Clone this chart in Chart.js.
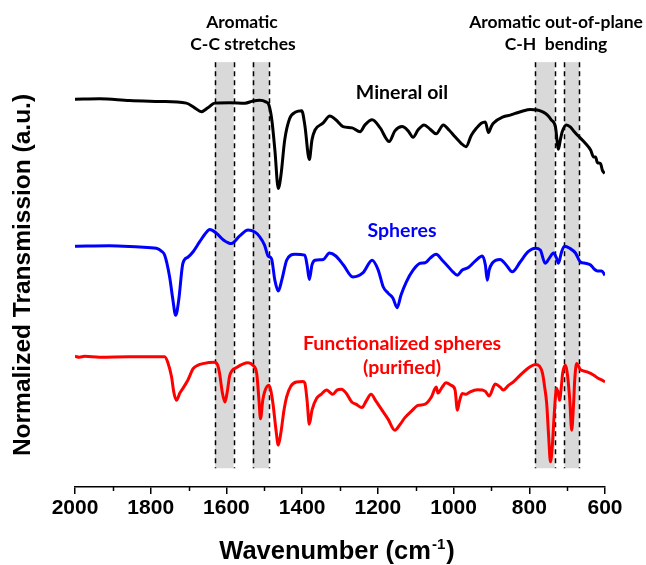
<!DOCTYPE html>
<html>
<head>
<meta charset="utf-8">
<script src="https://cdn.jsdelivr.net/npm/chart.js@4.4.1/dist/chart.umd.min.js"></script>
<style>
  html, body { margin: 0; padding: 0; background: #fff; }
  #wrap { width: 646px; height: 565px; position: relative; }
</style>
</head>
<body>
<div id="wrap"><canvas id="c" width="646" height="565"></canvas></div>
<script>
// ---- Data (wavenumber in cm-1, normalized transmission in a.u., traces offset) ----
const mineralOilWn = [2000,1935,1856,1776,1706,1684,1666,1649,1631,1591,1551,1530,1512,1496,1488,1480,1472,1463,1456,1446,1433,1417,1401,1393,1381,1374,1366,1345,1327,1311,1292,1268,1247,1234,1215,1194,1170,1155,1136,1120,1107,1094,1078,1062,1046,1027,1012,996,980,967,953,940,927,916,908,900,895,869,850,837,819,797,779,763,752,742,731,723,718,713,702,691,681,665,652,638,630,625,620,612,607,601];
const mineralOilT  = [90.8,90.9,90.5,90.3,89.9,88.8,87.9,88.8,89.9,90.0,89.9,90.4,90.6,90.2,89.5,85.9,78.9,69.9,73.0,81.3,86.3,87.8,88.1,84.8,76.7,81.3,83.6,85.2,86.9,86.0,84.4,84.1,83.2,84.8,86.0,84.1,80.9,83.4,84.4,83.4,81.9,83.6,84.8,83.8,82.7,84.8,83.6,82.0,80.5,79.7,82.4,84.0,85.2,85.5,83.0,84.5,85.2,86.7,87.1,87.5,88.0,88.4,88.3,87.8,87.1,86.0,84.4,79.1,81.3,83.2,84.8,84.3,83.2,81.7,80.5,78.9,77.3,77.3,75.9,75.8,74.2,73.4];

const spheresWn = [2000,1909,1829,1785,1771,1763,1750,1742,1734,1726,1715,1702,1688,1671,1657,1644,1626,1607,1587,1565,1543,1525,1512,1499,1490,1481,1472,1463,1454,1441,1430,1419,1393,1387,1381,1374,1366,1344,1328,1311,1291,1266,1239,1215,1199,1186,1173,1160,1149,1139,1125,1107,1088,1075,1062,1046,1030,1014,1001,990,977,961,943,924,916,911,906,898,877,861,845,824,803,784,771,758,747,736,728,723,715,707,693,678,665,652,638,628,620,609,600];
const spheresT  = [56.4,56.5,56.2,55.9,55.2,54.3,49.2,44.2,40.2,43.8,52.4,53.8,55.1,57.4,59.2,60.3,59.4,57.8,57.0,58.8,60.2,59.7,58.6,56.6,54.1,53.5,48.4,45.9,48.4,53.1,54.3,54.5,54.3,52.0,48.6,52.0,53.1,53.3,54.8,54.1,52.0,49.2,50.2,53.1,50.8,46.9,45.4,44.2,42.0,44.9,48.0,50.8,52.4,52.5,53.6,54.5,53.1,51.6,50.3,49.6,50.8,51.4,52.9,54.1,52.0,48.4,50.8,52.4,53.3,52.0,50.4,52.7,55.1,55.9,55.5,52.4,53.6,54.8,53.6,52.4,55.0,56.4,55.9,54.8,52.7,52.4,52.0,51.0,50.6,50.6,49.6];

const functionalizedWn = [2000,1988,1975,1935,1856,1763,1755,1745,1739,1732,1723,1715,1702,1688,1676,1662,1631,1623,1618,1611,1604,1598,1591,1573,1557,1543,1530,1520,1514,1510,1504,1499,1488,1483,1477,1469,1463,1456,1448,1441,1430,1415,1398,1393,1387,1381,1374,1362,1350,1335,1327,1319,1308,1296,1284,1269,1258,1242,1231,1218,1205,1189,1173,1155,1141,1128,1112,1094,1075,1059,1046,1041,1030,1020,1006,996,990,985,977,967,956,937,924,916,906,890,877,869,855,842,824,805,795,784,773,765,760,754,749,744,739,734,728,723,720,715,712,704,699,693,688,683,680,675,665,652,638,625,617,607,600];
const functionalizedT  = [30.6,30.4,30.6,30.4,30.5,30.5,29.2,25.8,22.2,20.3,22.0,23.1,25.0,27.7,28.5,28.9,29.2,28.5,26.6,22.2,19.9,22.2,26.2,28.0,28.8,29.1,28.5,26.6,20.3,16.0,20.3,22.3,23.8,22.7,19.5,13.3,9.8,12.8,18.0,21.1,23.6,24.6,24.7,24.4,20.3,14.7,18.0,20.7,21.7,22.7,22.2,21.7,22.7,22.9,22.0,19.9,19.4,18.6,20.1,21.7,20.1,18.0,15.9,13.3,14.7,16.3,17.7,19.1,19.4,21.0,23.4,22.0,23.4,24.4,23.8,22.7,18.0,19.9,21.9,21.7,22.3,22.8,22.7,22.4,21.3,24.1,23.4,22.7,23.8,24.6,26.2,27.7,28.3,28.7,28.3,26.6,23.8,19.5,12.1,5.9,9.8,17.2,23.1,21.7,20.3,23.8,26.6,28.5,26.2,20.3,13.3,19.5,25.0,28.9,27.5,27.1,26.6,25.9,25.4,25.0,24.6];

// Shaded bands (cm-1)
const bandStart = [1630, 1531, 784, 707];
const bandEnd   = [1581, 1488, 733, 668];
const bandTopValue = 99.5;
const bandBottomValue = 4.4;

// Axis ticks
const xTickValues = [2000, 1800, 1600, 1400, 1200, 1000, 800, 600];
const xMin = 600, xMax = 2000;

// Text labels
const seriesNames = ["Mineral oil", "Spheres", "Functionalized spheres", "(purified)"];
const regionTitles = [["Aromatic", "C-C stretches"], ["Aromatic out-of-plane", "C-H  bending"]];
const xTitle = "Wavenumber (cm";
const xTitleSup = "-1";
const yTitle = "Normalized Transmission (a.u.)";

function pts(xs, ys) { return xs.map((x, i) => ({ x: x, y: ys[i] })); }

const bandsPlugin = {
  id: 'bands',
  beforeDatasetsDraw(chart) {
    const ctx = chart.ctx, xs = chart.scales.x, ys = chart.scales.y;
    const yT = ys.getPixelForValue(bandTopValue), yB = ys.getPixelForValue(bandBottomValue);
    ctx.save();
    for (let i = 0; i < bandStart.length; i++) {
      const a = xs.getPixelForValue(bandStart[i]), b = xs.getPixelForValue(bandEnd[i]);
      ctx.fillStyle = '#d9d9d9';
      ctx.fillRect(Math.min(a, b), yT, Math.abs(b - a), yB - yT);
    }
    ctx.strokeStyle = '#000';
    ctx.lineWidth = 1.5;
    ctx.setLineDash([5, 4]);
    for (let i = 0; i < bandStart.length; i++) {
      [bandStart[i], bandEnd[i]].forEach(v => {
        const p = Math.round(xs.getPixelForValue(v)) + 0.5;
        ctx.beginPath(); ctx.moveTo(p, yT); ctx.lineTo(p, yB); ctx.stroke();
      });
    }
    ctx.restore();
  }
};

const textPlugin = {
  id: 'texts',
  afterDraw(chart) {
    const ctx = chart.ctx, xs = chart.scales.x, ca = chart.chartArea;
    ctx.save();
    // minor ticks
    ctx.strokeStyle = '#000'; ctx.lineWidth = 1.5;
    for (let v = 700; v < 2000; v += 200) {
      const p = Math.round(xs.getPixelForValue(v)) + 0.5;
      ctx.beginPath(); ctx.moveTo(p, ca.bottom); ctx.lineTo(p, ca.bottom + 4); ctx.stroke();
    }
    // y title
    ctx.fillStyle = '#000';
    ctx.font = 'bold 24.5px "Liberation Sans", Arial, sans-serif';
    ctx.textAlign = 'center'; ctx.textBaseline = 'middle';
    ctx.save();
    ctx.translate(23, 275); ctx.rotate(-Math.PI / 2);
    ctx.fillText(yTitle, 0, 0);
    ctx.restore();
    // x title with superscript
    ctx.textAlign = 'left'; ctx.textBaseline = 'alphabetic';
    const big = 'bold 25.5px "Liberation Sans", Arial, sans-serif';
    const small = 'bold 15px "Liberation Sans", Arial, sans-serif';
    ctx.font = big;
    const w1 = ctx.measureText(xTitle).width;
    ctx.font = small;
    const w2 = ctx.measureText(xTitleSup).width;
    ctx.font = big;
    const w3 = ctx.measureText(')').width;
    let x0 = 337 - (w1 + w2 + w3 + 2) / 2;
    const base = 559;
    ctx.fillText(xTitle, x0, base);
    ctx.font = small;
    ctx.fillText(xTitleSup, x0 + w1 + 1, base - 10);
    ctx.font = big;
    ctx.fillText(')', x0 + w1 + w2 + 2, base);
    // region titles
    ctx.font = 'bold 17.5px Lato, sans-serif';
    ctx.textAlign = 'center'; ctx.textBaseline = 'middle';
    ctx.fillStyle = '#000';
    ctx.fillText(regionTitles[0][0], 242, 22);
    ctx.fillText(regionTitles[0][1], 243, 44);
    ctx.fillText(regionTitles[1][0], 556, 22);
    ctx.fillText(regionTitles[1][1], 556, 44);
    // series labels
    ctx.font = 'bold 19.5px Lato, sans-serif';
    ctx.fillStyle = '#000000'; ctx.fillText(seriesNames[0], 402, 93);
    ctx.fillStyle = '#0000ff'; ctx.fillText(seriesNames[1], 402, 231);
    ctx.fillStyle = '#ff0000'; ctx.fillText(seriesNames[2], 402, 344);
    ctx.fillText(seriesNames[3], 402, 368);
    ctx.restore();
  }
};

const ds = (data, color) => ({
  data: data, borderColor: color, backgroundColor: color, borderWidth: 3,
  pointRadius: 0, fill: false, tension: 0, cubicInterpolationMode: 'monotone'
});

new Chart(document.getElementById('c'), {
  type: 'line',
  data: {
    datasets: [
      ds(pts(mineralOilWn, mineralOilT), '#000000'),
      ds(pts(spheresWn, spheresT), '#0000ff'),
      ds(pts(functionalizedWn, functionalizedT), '#ff0000')
    ]
  },
  options: {
    responsive: false,
    animation: false,
    events: [],
    layout: { padding: { left: 75, right: 41, top: 60, bottom: 0 } },
    plugins: { legend: { display: false }, tooltip: { enabled: false } },
    scales: {
      x: {
        type: 'linear', reverse: true, min: xMin, max: xMax,
        afterFit(s) { s.height = 78; },
        afterBuildTicks(s) { s.ticks = xTickValues.map(v => ({ value: v })); },
        grid: { display: true, drawOnChartArea: false, drawTicks: true, tickLength: 7, color: '#000', lineWidth: 1.5 },
        border: { display: true, color: '#000', width: 1.5 },
        ticks: {
          autoSkip: false, maxRotation: 0, padding: 2, color: '#000',
          font: { family: '"Liberation Sans", Arial, sans-serif', size: 21, weight: 'bold' },
          callback: v => String(v)
        }
      },
      y: { display: false, min: 0, max: 100 }
    }
  },
  plugins: [bandsPlugin, textPlugin]
});
</script>
</body>
</html>
